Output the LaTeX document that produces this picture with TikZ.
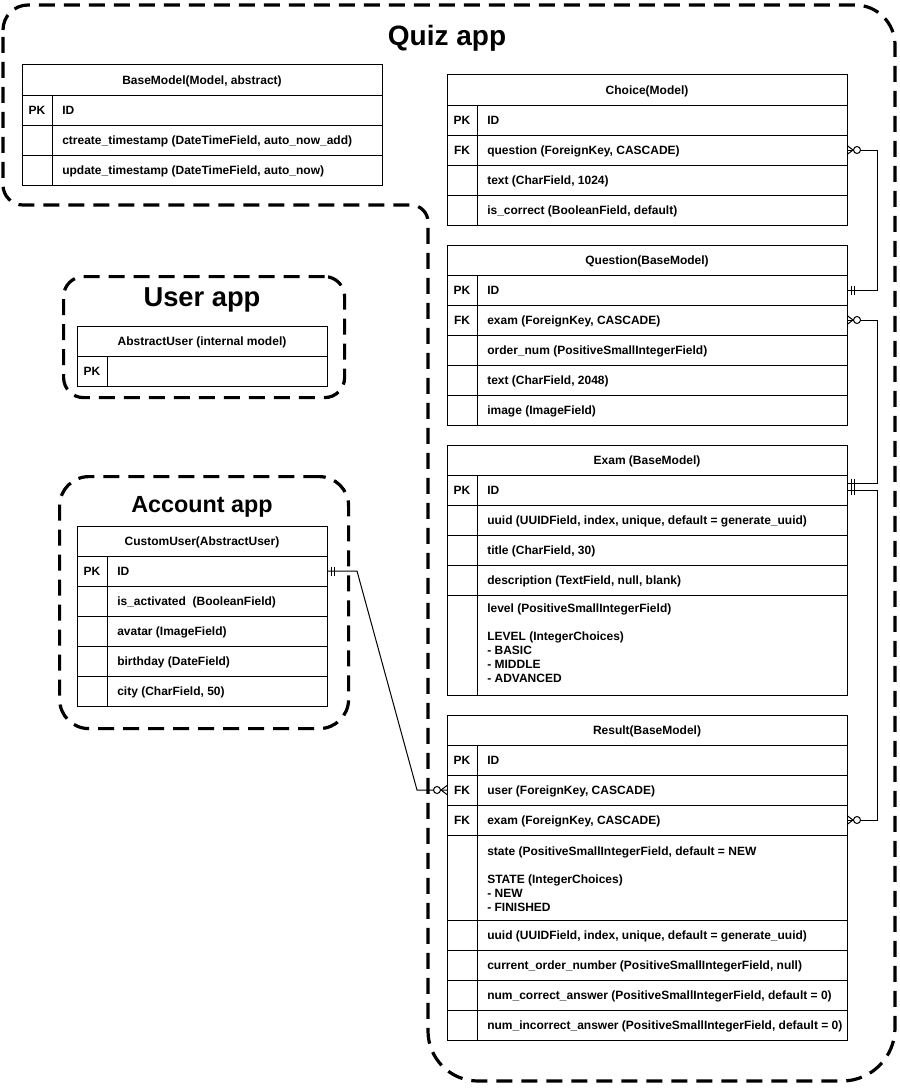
\documentclass[tikz,border=0pt]{standalone}
\usepackage{fontspec}
\setmainfont{Liberation Sans}
\newdimen\pxu \pxu=0.75pt
\tikzset{
  cell/.style={draw, line width=0.75pt, anchor=north west, inner sep=0pt, outer sep=0pt},
  tline/.style={line width=0.75pt},
  txt/.style={font=\fontsize{9}{10.5}\selectfont\bfseries, inner sep=0pt, text height=6.45pt, text depth=0pt},
  apptitle/.style={inner sep=0pt},
  appline/.style={line width=2.4pt, dash pattern=on 12pt off 6.75pt},
  appbox/.style={draw, appline, anchor=north west, inner sep=0pt},
  conn/.style={line width=0.75pt},
  mandone/.pic={\draw[conn] (4,-4.5) -- (4,4.5) (7,-4.5) -- (7,4.5);},
  zeromany/.pic={\draw[conn] (0,-4.5) -- (6,0) -- (0,4.5); \draw[conn, fill=white] (10,0) circle[radius=3.5];},
}
\newcommand{\erhead}[5]{%
  \node[cell, minimum width=#4*\pxu, minimum height=30*\pxu] (#1) at (#2,#3) {};
  \node[txt] at (#1.center) {#5};}
\newcommand{\errow}[7]{%
  \node[cell, minimum width=#4*\pxu, minimum height=#5*\pxu] (#1) at (#2,#3) {};
  \draw[tline] ([xshift=30*\pxu]#1.north west) -- ([xshift=30*\pxu]#1.south west);
  \node[txt] at ([xshift=15*\pxu]#1.west) {#6};
  \node[txt, anchor=west] at ([xshift=40*\pxu]#1.west) {#7};}
\begin{document}
\begin{tikzpicture}[x=0.75pt, y=-0.75pt]
\fill[white] (0,0) rectangle (899,1088);
\useasboundingbox (0,0) rectangle (899,1088);

% Quiz app outline
\draw[appline] (3,30) arc[start angle=180, end angle=270, radius=25]
  -- (855,5) arc[start angle=270, end angle=360, radius=40]
  -- (895,1028) arc[start angle=0, end angle=90, radius=53]
  -- (478,1081) arc[start angle=90, end angle=180, radius=50]
  -- (428,222) arc[start angle=0, end angle=-90, radius=17]
  -- (23,205) arc[start angle=90, end angle=180, radius=20]
  -- cycle;
\node[apptitle, font=\fontsize{21}{25}\selectfont\bfseries] (quiztitle) at (447,38) {Quiz app};

% User app
\node[appbox, rounded corners=15pt, minimum width=281*\pxu, minimum height=121*\pxu] (userapp) at (62,275) {};
\node[apptitle, font=\fontsize{20.5}{24}\selectfont\bfseries] (usertitle) at (202,300) {User app};

% Account app
\node[appbox, rounded corners=22pt, minimum width=289*\pxu, minimum height=252*\pxu] (accapp) at (58,475) {};
\node[apptitle, font=\fontsize{17.5}{21}\selectfont\bfseries] (acctitle) at (202,507) {Account app};

% BaseModel
\erhead{bm}{22}{65}{360}{BaseModel(Model, abstract)}
\errow{bmid}{22}{95}{360}{30}{PK}{ID}
\errow{bmc}{22}{125}{360}{30}{}{ctreate\_timestamp (DateTimeField, auto\_now\_add)}
\errow{bmu}{22}{155}{360}{30}{}{update\_timestamp (DateTimeField, auto\_now)}

% Choice
\erhead{ch}{447}{75}{400}{Choice(Model)}
\errow{chid}{447}{105}{400}{30}{PK}{ID}
\errow{chq}{447}{135}{400}{30}{FK}{question (ForeignKey, CASCADE)}
\errow{cht}{447}{165}{400}{30}{}{text (CharField, 1024)}
\errow{chc}{447}{195}{400}{30}{}{is\_correct (BooleanField, default)}

% Question
\erhead{qu}{447}{245}{400}{Question(BaseModel)}
\errow{qid}{447}{275}{400}{30}{PK}{ID}
\errow{qex}{447}{305}{400}{30}{FK}{exam (ForeignKey, CASCADE)}
\errow{qord}{447}{335}{400}{30}{}{order\_num (PositiveSmallIntegerField)}
\errow{qtx}{447}{365}{400}{30}{}{text (CharField, 2048)}
\errow{qim}{447}{395}{400}{30}{}{image (ImageField)}

% Exam
\erhead{ex}{447}{445}{400}{Exam (BaseModel)}
\errow{eid}{447}{475}{400}{30}{PK}{ID}
\errow{euu}{447}{505}{400}{30}{}{uuid (UUIDField, index, unique, default = generate\_uuid)}
\errow{eti}{447}{535}{400}{30}{}{title (CharField, 30)}
\errow{ede}{447}{565}{400}{30}{}{description (TextField, null, blank)}
\errow{elv}{447}{595}{400}{100}{}{}
\node[txt, anchor=west] (elv1) at (487,608) {level (PositiveSmallIntegerField)};
\node[txt, anchor=west] (elv2) at (487,636) {LEVEL (IntegerChoices)};
\node[txt, anchor=west] (elv3) at (487,650) {- BASIC};
\node[txt, anchor=west] (elv4) at (487,664) {- MIDDLE};
\node[txt, anchor=west] (elv5) at (487,678) {- ADVANCED};

% Result
\erhead{re}{447}{715}{400}{Result(BaseModel)}
\errow{rid}{447}{745}{400}{30}{PK}{ID}
\errow{rus}{447}{775}{400}{30}{FK}{user (ForeignKey, CASCADE)}
\errow{rex}{447}{805}{400}{30}{FK}{exam (ForeignKey, CASCADE)}
\errow{rst}{447}{835}{400}{85}{}{}
\node[txt, anchor=west] (rst1) at (487,851) {state (PositiveSmallIntegerField, default = NEW};
\node[txt, anchor=west] (rst2) at (487,879) {STATE (IntegerChoices)};
\node[txt, anchor=west] (rst3) at (487,893) {- NEW};
\node[txt, anchor=west] (rst4) at (487,907) {- FINISHED};
\errow{ruu}{447}{920}{400}{30}{}{uuid (UUIDField, index, unique, default = generate\_uuid)}
\errow{rco}{447}{950}{400}{30}{}{current\_order\_number (PositiveSmallIntegerField, null)}
\errow{rnc}{447}{980}{400}{30}{}{num\_correct\_answer (PositiveSmallIntegerField, default = 0)}
\errow{rni}{447}{1010}{400}{30}{}{num\_incorrect\_answer (PositiveSmallIntegerField, default = 0)}

% AbstractUser
\erhead{au}{77}{326}{250}{AbstractUser (internal model)}
\errow{auid}{77}{356}{250}{30}{PK}{}

% CustomUser
\erhead{cu}{77}{526}{250}{CustomUser(AbstractUser)}
\errow{cuid}{77}{556}{250}{30}{PK}{ID}
\errow{cua}{77}{586}{250}{30}{}{is\_activated\ \ (BooleanField)}
\errow{cuav}{77}{616}{250}{30}{}{avatar (ImageField)}
\errow{cub}{77}{646}{250}{30}{}{birthday (DateField)}
\errow{cuc}{77}{676}{250}{30}{}{city (CharField, 50)}

% Connectors
\draw[conn] (chq.east) -- ++(30,0) |- (qid.east);
\pic at (chq.east) {zeromany};
\pic at (qid.east) {mandone};

\coordinate (eidtop) at ([yshift=5.25pt]eid.east);
\draw[conn] (qex.east) -- ++(30,0) |- (eidtop);
\pic at (qex.east) {zeromany};
\pic at (eidtop) {mandone};

\draw[conn] (eid.east) -- ++(30,0) |- (rex.east);
\pic at (eid.east) {mandone};
\pic at (rex.east) {zeromany};

\coordinate (rusin) at ([xshift=-22.5pt]rus.west);
\draw[conn] (cuid.east) -- ++(30,0) -- (rusin) -- (rus.west);
\pic at (cuid.east) {mandone};
\pic[xscale=-1] at (rus.west) {zeromany};
\end{tikzpicture}
\end{document}
